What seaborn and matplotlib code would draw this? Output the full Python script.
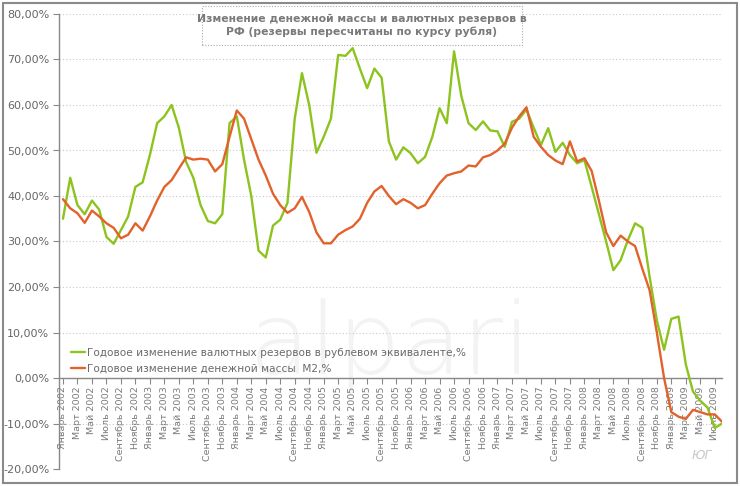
import numpy as np
import pandas as pd
import seaborn as sns
import matplotlib
matplotlib.use("Agg")
import matplotlib.pyplot as plt
from matplotlib.patches import Rectangle

# ---- data (monthly, Jan 2002 .. Aug 2009) ----
months_ru = ["Январь", "Февраль", "Март", "Апрель", "Май", "Июнь",
             "Июль", "Август", "Сентябрь", "Октябрь", "Ноябрь", "Декабрь"]
years = list(range(2002, 2010))

reserves = [35, 44, 38, 36, 39, 37, 31, 29.5, 32.5, 35.5, 42, 43,
            49, 56, 57.5, 60, 55, 47.5, 44, 38, 34.5, 34, 36, 56,
            57.5, 48, 40, 28, 26.5, 33.5, 34.8, 38.5, 57, 67, 60, 49.5,
            53, 57, 71, 70.8, 72.5, 68, 63.7, 68, 66, 52, 48, 50.7,
            49.4, 47.2, 48.6, 53, 59.3, 56, 71.8, 62, 56, 54.5, 56.4, 54.4,
            54.2, 50.8, 56.3, 57, 59, 55, 51.2, 54.9, 49.7, 51.7, 49, 47.2,
            47.9, 42, 36, 30, 23.7, 25.9, 30.3, 34, 33, 22.3, 12.7, 6.2,
            13, 13.5, 3, -3, -5, -6.5, -11, -10]

m2 = [39.3, 37.3, 36.2, 34.1, 36.8, 35.5, 34, 33, 30.7, 31.5, 34, 32.4,
      35.5, 39, 42, 43.5, 46, 48.5, 48, 48.2, 48, 45.4, 47, 53,
      58.8, 57, 52.5, 48, 44.5, 40.5, 38, 36.3, 37.3, 39.8, 36.5, 32,
      29.6, 29.6, 31.5, 32.5, 33.3, 35, 38.5, 41, 42.2, 40, 38.2, 39.3,
      38.5, 37.3, 38, 40.5, 42.8, 44.5, 45, 45.4, 46.7, 46.5, 48.5, 49,
      50, 51.5, 55, 57.5, 59.5, 53, 50.8, 49, 47.8, 47, 52, 47.6,
      48.3, 45.5, 39, 32, 29, 31.3, 30, 29, 24, 19.3, 10, 0,
      -7.5, -8.5, -9, -7, -7.5, -8, -8, -9.6]

series_names = ["Годовое изменение валютных резервов в рублевом эквиваленте,%",
                "Годовое изменение денежной массы  М2,%"]
y_ticks = [-20, -10, 0, 10, 20, 30, 40, 50, 60, 70, 80]
title = "Изменение денежной массы и валютных резервов в\nРФ (резервы пересчитаны по курсу рубля)"

n = len(reserves)
tick_pos = list(range(0, 91, 2))
tick_labels = [f"{months_ru[p % 12]} {2002 + p // 12}" for p in tick_pos]

df = pd.DataFrame({
    "m": list(range(n)) * 2,
    "value": reserves + m2,
    "series": [series_names[0]] * n + [series_names[1]] * n,
})

sns.set_style("white")
plt.rcParams["font.family"] = ["DejaVu Sans"]

W, H = 740, 486
fig = plt.figure(figsize=(W / 100, H / 100), dpi=100)
ax = fig.add_axes([59 / W, 17 / H, (722 - 59) / W, (469 - 14) / H])

# watermark
ax.text(0.5, 0.27, "alpari", transform=ax.transAxes, ha="center", va="center",
        fontsize=72, color="#f3f3f3", zorder=0, fontweight="light")

sns.lineplot(data=df, x="m", y="value", hue="series",
             palette=["#8cc31e", "#e2622b"], linewidth=1.7, ax=ax, zorder=3)

ax.set_xlim(-0.55, 91.0)
ax.set_ylim(-20, 80)
ax.set_yticks(y_ticks)
ax.set_yticklabels([f"{v},00%" for v in y_ticks])
ax.set_xticks(tick_pos)
ax.set_xticklabels(tick_labels)
ax.set_xlabel("")
ax.set_ylabel("")

for v in y_ticks:
    ax.axhline(v, color="#c8c8c8", linestyle=(0, (1, 2)), linewidth=0.8, zorder=1)

for s in ["top", "right"]:
    ax.spines[s].set_visible(False)
ax.spines["bottom"].set_position(("data", 0))
ax.spines["left"].set_color("#888888")
ax.spines["bottom"].set_color("#888888")
ax.spines["left"].set_linewidth(1.0)
ax.spines["bottom"].set_linewidth(1.0)
ax.tick_params(axis="y", direction="out", length=4, width=0.8, color="#888888",
               labelsize=8, labelcolor="#666666", pad=3, left=True)
ax.tick_params(axis="x", direction="out", length=4, width=0.8, color="#888888",
               labelsize=6.8, labelcolor="#7a7a7a", pad=2, bottom=True,
               labelrotation=90)

leg = ax.legend(loc="upper left", bbox_to_anchor=(0.012, 0.275), frameon=False,
                handlelength=1.3, handletextpad=0.2, labelspacing=0.55,
                fontsize=7.6, borderaxespad=0)
for t in leg.get_texts():
    t.set_color("#6a6a6a")

ax.text(0.985, 0.015, "ЮГ", transform=ax.transAxes, ha="right", va="bottom",
        fontsize=9, color="#c8c8c8", style="italic")

# title box
fig.patches.append(Rectangle((202 / W, 1 - 45 / H), (522 - 202) / W, (45 - 6) / H,
                             transform=fig.transFigure, fill=True, facecolor="white",
                             edgecolor="#aaaaaa", linestyle=(0, (1, 1.5)), linewidth=0.8,
                             zorder=5))
fig.text(362 / W, 1 - 25.5 / H, title, ha="center", va="center", fontsize=7.8,
         fontweight="bold", color="#7a7a7a", zorder=6, linespacing=1.25)

# outer border
fig.patches.append(Rectangle((3 / W, 3 / H), (W - 6) / W, (H - 6) / H,
                             transform=fig.transFigure, fill=False,
                             edgecolor="#8a8a8a", linewidth=1.5, zorder=10))

fig.savefig("out.png", dpi=100)
